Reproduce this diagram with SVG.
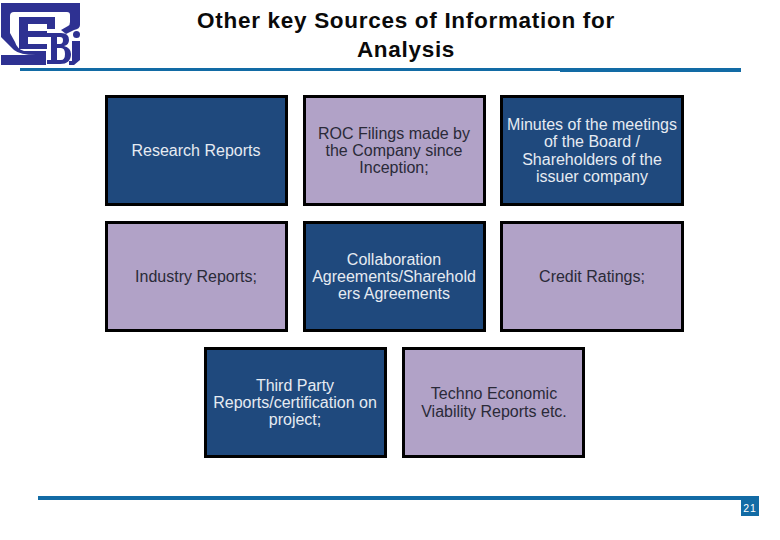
<svg xmlns="http://www.w3.org/2000/svg" width="780" height="540" viewBox="0 0 780 540">
<style>
text{font-family:"Liberation Sans",Arial,sans-serif;text-anchor:middle}
.t{font-size:22.500px;font-weight:700;fill:#0a0a0a;letter-spacing:.7px}
.b{font-size:16px}
.box{stroke:#000;stroke-width:3}
.d rect{fill:#1f497d}.d text{fill:#e6ebf2}
.l rect{fill:#b1a2c7}.l text{fill:#2a2a38}
.rule{fill:#126ba5}
.ink{fill:#2e3192}
</style>
<rect width="780" height="540" fill="#fff"/>
<g id="logo">
<path class="ink" d="M1 3H80V25Q80 29 74 30L66 34L61 30L68 26Q70 25 70 22V15Q70 12 67 12H14Q10 12 10 16V33L15 42Q17 49 24 51H46V65H1V55H36Q20 55 14 50L1 37Z"/>
<path class="ink" d="M19 17H55V29H47V24H28V31H47V37H28V44H47V49H19Z"/>
<path class="ink" fill-rule="evenodd" d="M47 33H61Q69 33 69 40Q69 45 64 46Q71 48 71 54Q71 64 60 64H47V60H51V37H47ZM57 37V44H60Q63 44 63 40Q63 37 60 37ZM57 48V60H61Q65 60 65 54Q65 48 61 48Z"/>
<circle class="ink" cx="76.500" cy="34.500" r="3.500"/>
<path class="ink" d="M72 41H80V60L74 65H69V61H72Z"/>
</g>
<g id="title"><text class="t" x="406" y="27.500">Other key Sources of Information for</text><text class="t" x="406" y="56.500">Analysis</text></g>
<rect class="rule" x="20" y="68" width="540" height="3"/>
<rect class="rule" x="560" y="68" width="181" height="4"/>
<g id="n1" class="d"><rect class="box" x="106.500" y="96.500" width="180" height="108"/><text class="b" x="196" y="156">Research Reports</text></g>
<g id="n2" class="l"><rect class="box" x="304.500" y="96.500" width="180" height="108"/><text class="b" x="394" y="139">ROC Filings made by</text><text class="b" x="394" y="156">the Company since</text><text class="b" x="394" y="173">Inception;</text></g>
<g id="n3" class="d"><rect class="box" x="501.500" y="96.500" width="181" height="108"/><text class="b" x="592" y="130">Minutes of the meetings</text><text class="b" x="592" y="147">of the Board /</text><text class="b" x="592" y="165">Shareholders of the</text><text class="b" x="592" y="182">issuer company</text></g>
<g id="n4" class="l"><rect class="box" x="106.500" y="222.500" width="180" height="108"/><text class="b" x="196" y="282">Industry Reports;</text></g>
<g id="n5" class="d"><rect class="box" x="304.500" y="222.500" width="180" height="108"/><text class="b" x="394" y="265">Collaboration</text><text class="b" x="394" y="282">Agreements/Sharehold</text><text class="b" x="394" y="299">ers Agreements</text></g>
<g id="n6" class="l"><rect class="box" x="501.500" y="222.500" width="181" height="108"/><text class="b" x="592" y="282">Credit Ratings;</text></g>
<g id="n7" class="d"><rect class="box" x="205.500" y="348.500" width="180" height="108"/><text class="b" x="295" y="391">Third Party</text><text class="b" x="295" y="408">Reports/certification on</text><text class="b" x="295" y="425">project;</text></g>
<g id="n8" class="l"><rect class="box" x="403.500" y="348.500" width="180" height="108"/><text class="b" x="494" y="399">Techno Economic</text><text class="b" x="494" y="417">Viability Reports etc.</text></g>
<rect class="rule" x="38" y="496" width="721" height="4"/>
<g id="page"><rect class="rule" x="741" y="496" width="18" height="20"/><text x="750" y="512" font-size="10.500" fill="#fff" letter-spacing=".8">21</text></g>
</svg>
